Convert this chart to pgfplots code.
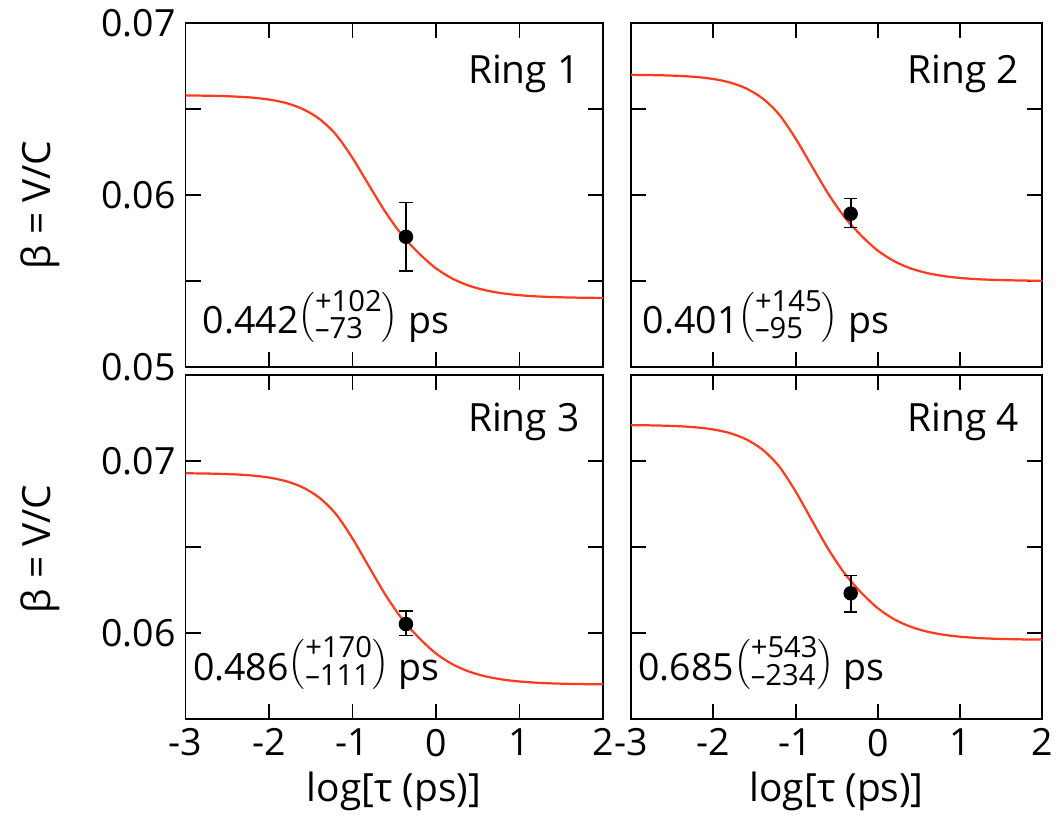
\documentclass[border=0pt]{standalone}
\usepackage{fontspec}
\setmainfont{Open Sans}
\usepackage{pgfplots}
\pgfplotsset{compat=1.18}

\definecolor{fitred}{RGB}{255,59,28}

\newcommand{\errstack}[2]{\raisebox{2.2pt}{$\left(\vcenter{\hbox{\fontsize{10.5}{7.9}\selectfont\begin{tabular}{@{}l@{}}+#1\\–#2\end{tabular}}}\right)$}}

\tikzset{
  ringlab/.style={anchor=base east, inner sep=0pt, font=\fontsize{14}{14}\selectfont},
  tauval/.style={anchor=base west, inner sep=0pt, font=\fontsize{13.5}{13.5}\selectfont},
}

\pgfplotsset{
  panel/.style={
    scale only axis,
    height=123.84pt,
    xmin=-3, xmax=2,
    xtick={-3,-2,-1,0,1,2},
    scaled y ticks=false,
    tick align=inside,
    major tick length=5.5pt,
    every tick/.style={black, line width=0.7pt},
    axis line style={line width=0.7pt},
    ticklabel style={font=\fontsize{13.5}{13.5}\selectfont},
    /pgf/number format/assume math mode=true,
    anchor=north west,
  },
  fitc/.style={fitred, line width=0.8pt, smooth, no markers},
  datpt/.style={only marks, mark=*, mark size=2.4pt, black,
    error bars/.cd, y dir=both, y explicit,
    error bar style={line width=0.6pt, black}},
}

\begin{document}
\begin{tikzpicture}
\path[use as bounding box] (0,0) rectangle (381.96pt,-295.2pt);

% ---------- Ring 1 ----------
\begin{axis}[panel, at={(66.78pt,-8.28pt)}, width=150.3pt,
  ymin=0.05, ymax=0.07,
  ytick={0.05,0.055,0.06,0.065,0.07}, yticklabels={0.05,,0.06,,0.07},
  xticklabels={}]
\addplot[fitc] coordinates {
(-3.0,0.065787) (-2.8,0.065777) (-2.6,0.065758) (-2.4,0.065723) (-2.2,0.065661)
(-2.0,0.065550) (-1.8,0.065353) (-1.6,0.065009) (-1.4,0.064437) (-1.2,0.063524)
(-1.0,0.062153) (-0.8,0.060549) (-0.6,0.058969) (-0.4,0.057626) (-0.2,0.056589)
(0.0,0.055736) (0.2,0.055130) (0.4,0.054720) (0.6,0.054453) (0.8,0.054282)
(1.0,0.054175) (1.2,0.054107) (1.4,0.054066) (1.6,0.054041) (1.8,0.054025)
(2.0,0.054015)};
\addplot[datpt] coordinates {(-0.36,0.05757) += (0,0.00202) -= (0,0.00199)};
\node[ringlab, xshift=-8.3pt, yshift=-21.6pt] at (rel axis cs:1,1) {Ring 1};
\node[tauval, xshift=6pt, yshift=11.9pt] at (rel axis cs:0,0) {0.442\errstack{102}{73}\ ps};
\end{axis}

% ---------- Ring 2 ----------
\begin{axis}[panel, at={(227.16pt,-8.28pt)}, width=148.1pt,
  ymin=0.05, ymax=0.07,
  ytick={0.05,0.055,0.06,0.065,0.07}, yticklabels={},
  xticklabels={}]
\addplot[fitc] coordinates {
(-3.0,0.066987) (-2.8,0.066976) (-2.6,0.066957) (-2.4,0.066922) (-2.2,0.066859)
(-2.0,0.066746) (-1.8,0.066545) (-1.6,0.066196) (-1.4,0.065614) (-1.2,0.064685)
(-1.0,0.063291) (-0.8,0.061660) (-0.6,0.060053) (-0.4,0.058688) (-0.2,0.057633)
(0.0,0.056765) (0.2,0.056150) (0.4,0.055732) (0.6,0.055461) (0.8,0.055287)
(1.0,0.055178) (1.2,0.055109) (1.4,0.055067) (1.6,0.055042) (1.8,0.055025)
(2.0,0.055016)};
\addplot[datpt] coordinates {(-0.33,0.05891) += (0,0.00088) -= (0,0.00082)};
\node[ringlab, xshift=-8.3pt, yshift=-21.6pt] at (rel axis cs:1,1) {Ring 2};
\node[tauval, xshift=4pt, yshift=11.9pt] at (rel axis cs:0,0) {0.401\errstack{145}{95}\ ps};
\end{axis}

% ---------- Ring 3 ----------
\begin{axis}[panel, at={(66.78pt,-135pt)}, width=150.3pt,
  ymin=0.055, ymax=0.075,
  ytick={0.055,0.06,0.065,0.07,0.075}, yticklabels={,0.06,,0.07,},
  xticklabels={-3,-2,-1,0,1,2}]
\addplot[fitc] coordinates {
(-3.0,0.069287) (-2.8,0.069276) (-2.6,0.069256) (-2.4,0.069220) (-2.2,0.069155)
(-2.0,0.069039) (-1.8,0.068834) (-1.6,0.068476) (-1.4,0.067879) (-1.2,0.066927)
(-1.0,0.065498) (-0.8,0.063826) (-0.6,0.062180) (-0.4,0.060780) (-0.2,0.059699)
(0.0,0.058809) (0.2,0.058178) (0.4,0.057750) (0.6,0.057472) (0.8,0.057294)
(1.0,0.057182) (1.2,0.057112) (1.4,0.057069) (1.6,0.057043) (1.8,0.057026)
(2.0,0.057016)};
\addplot[datpt] coordinates {(-0.36,0.06052) += (0,0.00076) -= (0,0.00069)};
\node[ringlab, xshift=-8.3pt, yshift=-20.5pt] at (rel axis cs:1,1) {Ring 3};
\node[tauval, xshift=2.5pt, yshift=14pt] at (rel axis cs:0,0) {0.486\errstack{170}{111}\ ps};
\end{axis}

% ---------- Ring 4 ----------
\begin{axis}[panel, at={(227.16pt,-135pt)}, width=148.1pt,
  ymin=0.055, ymax=0.075,
  ytick={0.055,0.06,0.065,0.07,0.075}, yticklabels={},
  xticklabels={-3,-2,-1,0,1,2}]
\addplot[fitc] coordinates {
(-3.0,0.072086) (-2.8,0.072075) (-2.6,0.072055) (-2.4,0.072019) (-2.2,0.071953)
(-2.0,0.071835) (-1.8,0.071626) (-1.6,0.071262) (-1.4,0.070656) (-1.2,0.069689)
(-1.0,0.068236) (-0.8,0.066537) (-0.6,0.064864) (-0.4,0.063441) (-0.2,0.062342)
(0.0,0.061439) (0.2,0.060797) (0.4,0.060362) (0.6,0.060080) (0.8,0.059899)
(1.0,0.059785) (1.2,0.059714) (1.4,0.059670) (1.6,0.059644) (1.8,0.059626)
(2.0,0.059616)};
\addplot[datpt] coordinates {(-0.33,0.06231) += (0,0.00106) -= (0,0.00109)};
\node[ringlab, xshift=-8.3pt, yshift=-20.5pt] at (rel axis cs:1,1) {Ring 4};
\node[tauval, xshift=2.5pt, yshift=14pt] at (rel axis cs:0,0) {0.685\errstack{543}{234}\ ps};
\end{axis}

% ---------- axis titles ----------
\node[rotate=90, anchor=base, font=\fontsize{14}{14}\selectfont] at (18pt,-73.8pt) {β = V/C};
\node[rotate=90, anchor=base, font=\fontsize{14}{14}\selectfont] at (18pt,-197.6pt) {β = V/C};
\node[anchor=base, font=\fontsize{14}{14}\selectfont] at (141.8pt,-288.4pt) {log[τ (ps)]};
\node[anchor=base, font=\fontsize{14}{14}\selectfont] at (301.2pt,-288.4pt) {log[τ (ps)]};
\end{tikzpicture}
\end{document}
